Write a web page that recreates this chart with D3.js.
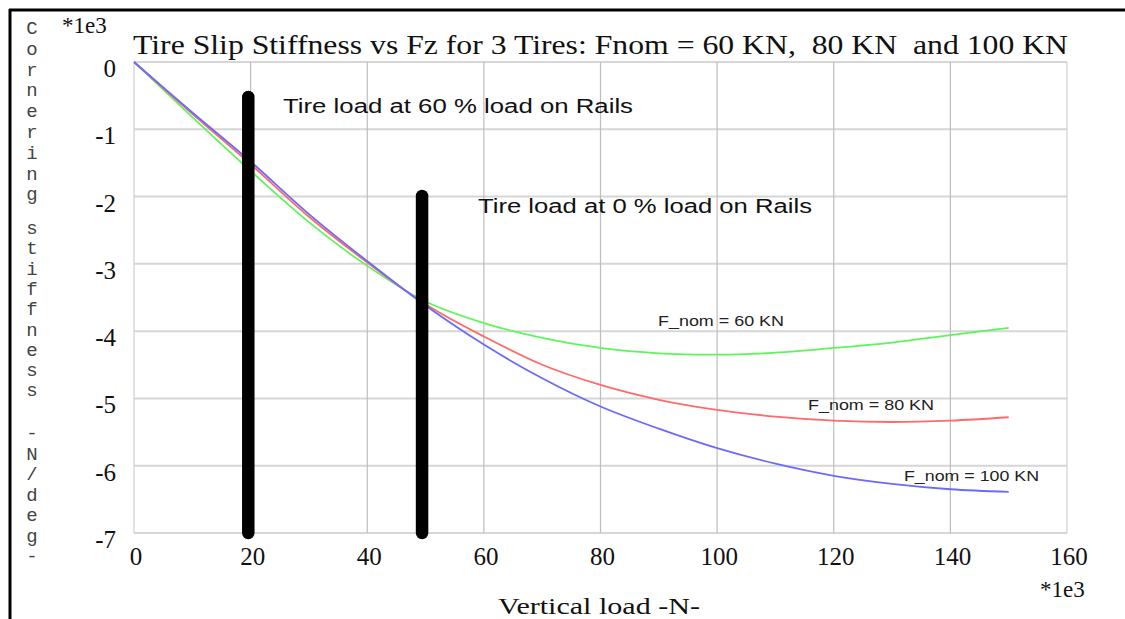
<!DOCTYPE html>
<html><head><meta charset="utf-8">
<script src="https://cdn.jsdelivr.net/npm/d3@7"></script>
<style>html,body{margin:0;padding:0;background:#fff;} svg{display:block;}
.serif{font-family:"Liberation Serif","Times New Roman",serif;}
.sans{font-family:"Liberation Sans",Arial,sans-serif;}
.mono{font-family:"Liberation Mono","Courier New",monospace;}
</style>
</head><body>
<svg id="c" width="1125" height="619"></svg>
<script>
// ---- data ----
const loadK = [0,10,20,30,40,50,60,70,80,90,100,110,120,130,140,150];
const fnom60  = [0,-0.82,-1.62,-2.38,-3.03,-3.56,-3.88,-4.10,-4.25,-4.33,-4.35,-4.32,-4.25,-4.17,-4.06,-3.95];
const fnom80  = [0,-0.77,-1.52,-2.30,-2.98,-3.60,-4.08,-4.50,-4.80,-5.02,-5.17,-5.27,-5.33,-5.35,-5.33,-5.28];
const fnom100 = [0,-0.75,-1.48,-2.26,-2.96,-3.62,-4.20,-4.70,-5.12,-5.45,-5.74,-5.97,-6.15,-6.27,-6.35,-6.39];
const seriesNames = ["F_nom = 60 KN","F_nom = 80 KN","F_nom = 100 KN"];
const seriesColors = ["#5cf55c","#ff6a6a","#6a6aff"];
const xTicks = [0,20,40,60,80,100,120,140,160];
const yTicks = [0,-1,-2,-3,-4,-5,-6,-7];
const barX = [19.6, 49.4];
const barTop = [-0.52, -1.99];
const barLabels = ["Tire load at 60 % load on Rails","Tire load at 0 % load on Rails"];
const titleText = "Tire Slip Stiffness vs Fz for 3 Tires: Fnom = 60 KN,  80 KN  and 100 KN";
const yLabelWords = ["Cornering","stiffness","-N/deg-"];
const xLabelText = "Vertical load -N-";

const svg = d3.select("#c");
const x = d3.scaleLinear().domain([0,160]).range([134,1067]);
const y = d3.scaleLinear().domain([-7,0]).range([533,62]);

// frame
svg.append("line").attr("x1",9).attr("x2",1125).attr("y1",10).attr("y2",10).attr("stroke","#000").attr("stroke-width",3);
svg.append("line").attr("x1",10).attr("x2",10).attr("y1",9).attr("y2",619).attr("stroke","#000").attr("stroke-width",3);

// grid
svg.append("g").selectAll("line").data(yTicks).join("line")
  .attr("x1",x(0)).attr("x2",x(160)).attr("y1",d=>y(d)).attr("y2",d=>y(d))
  .attr("stroke","#d6d6d6").attr("stroke-width",2);
svg.append("g").selectAll("line").data(xTicks).join("line")
  .attr("x1",d=>x(d)).attr("x2",d=>x(d)).attr("y1",y(0)).attr("y2",y(-7))
  .attr("stroke",d=>(d===0||d===160)?"#d0d0d0":"#bdbdbd").attr("stroke-width",1.2);

// tick labels
svg.append("g").selectAll("text").data(yTicks).join("text").attr("class","serif")
  .attr("x",116).attr("y",d=>y(d)+15).attr("text-anchor","end")
  .attr("font-size",25).attr("fill","#111")
  .text(d=>d===0?"0":"-"+Math.abs(d));
svg.append("g").selectAll("text").data(xTicks).join("text").attr("class","serif")
  .attr("x",d=>x(d)+2).attr("y",565).attr("text-anchor","middle")
  .attr("font-size",25).attr("fill","#111")
  .text(d=>d);
svg.append("text").attr("class","serif").attr("x",62).attr("y",33).attr("font-size",23).attr("fill","#111").text("*1e3");
svg.append("text").attr("class","serif").attr("x",1040).attr("y",597).attr("font-size",23).attr("fill","#111").text("*1e3");

// title
svg.append("text").attr("class","serif").attr("x",133).attr("y",54)
  .attr("font-size",27).attr("fill","#111").style("white-space","pre")
  .attr("textLength",935).attr("lengthAdjust","spacingAndGlyphs").text(titleText);

// x label
svg.append("text").attr("class","serif").attr("x",498).attr("y",614)
  .attr("font-size",24).attr("fill","#111").attr("textLength",202).attr("lengthAdjust","spacingAndGlyphs").text(xLabelText);

// y label vertical letters
const wordStarts = [34,234,439];
const steps = [20.8,20.3,20.5];
yLabelWords.forEach((w,wi)=>{
  svg.append("g").selectAll("text").data(w.split("")).join("text").attr("class","mono")
    .attr("x",32).attr("y",(d,i)=>wordStarts[wi]+i*steps[wi]).attr("text-anchor","middle")
    .attr("font-size",19).attr("fill","#444")
    .text(d=>d);
});

// curves
const line = d3.line().x((d,i)=>x(loadK[i])).y(d=>y(d)).curve(d3.curveCatmullRom);
[fnom60,fnom80,fnom100].forEach((s,i)=>{
  svg.append("path").attr("d",line(s)).attr("fill","none").attr("stroke",seriesColors[i]).attr("stroke-width",1.8);
});

// bars
svg.append("g").selectAll("line").data(barX).join("line")
  .attr("x1",d=>x(d)).attr("x2",d=>x(d)).attr("y1",(d,i)=>y(barTop[i])).attr("y2",y(-7))
  .attr("stroke","#000").attr("stroke-width",12.5).attr("stroke-linecap","round");

// annotations
const annX = [283,478], annY = [113,213], annW = [350,334];
svg.append("g").selectAll("text").data(barLabels).join("text").attr("class","sans")
  .attr("x",(d,i)=>annX[i]).attr("y",(d,i)=>annY[i])
  .attr("font-size",20).attr("fill","#111")
  .attr("textLength",(d,i)=>annW[i]).attr("lengthAdjust","spacingAndGlyphs").text(d=>d);

const labX = [658,808,904], labY = [326,410,481];
svg.append("g").selectAll("text").data(seriesNames).join("text").attr("class","sans")
  .attr("x",(d,i)=>labX[i]).attr("y",(d,i)=>labY[i])
  .attr("font-size",14).attr("fill","#222")
  .attr("textLength",(d,i)=>i===2?135:126).attr("lengthAdjust","spacingAndGlyphs").text(d=>d);
</script>
</body></html>
